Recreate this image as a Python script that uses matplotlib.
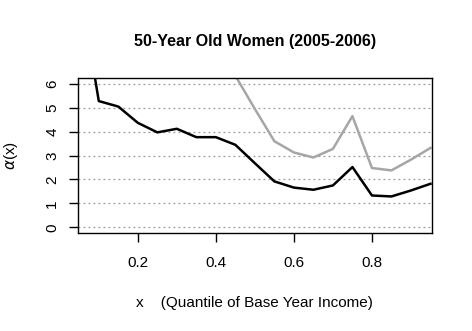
"""
50-Year Old Women (2005-2006) - alpha(x) by base-year income quantile
"""

import matplotlib
matplotlib.use('Agg')
import matplotlib.pyplot as plt

plt.rcParams['font.family'] = ['Liberation Sans', 'DejaVu Sans']

# ==================== 数据 ====================
x_vals = [0.05, 0.10, 0.15, 0.20, 0.25, 0.30, 0.35, 0.40, 0.45, 0.50,
          0.55, 0.60, 0.65, 0.70, 0.75, 0.80, 0.85, 0.90, 0.95]
alpha_black = [10.2, 5.28, 5.05, 4.37, 3.97, 4.12, 3.77, 3.77, 3.45, 2.68,
               1.92, 1.66, 1.57, 1.75, 2.52, 1.33, 1.29, 1.54, 1.82]
# 灰线前半段超出上界
alpha_gray = [14.0, 12.5, 11.3, 10.2, 9.2, 8.4, 7.7, 7.7, 6.34, 4.95,
              3.60, 3.13, 2.92, 3.28, 4.65, 2.48, 2.38, 2.83, 3.32]

x_ticks = [0.2, 0.4, 0.6, 0.8]
y_ticks = [0, 1, 2, 3, 4, 5, 6]

title = '50-Year Old Women (2005-2006)'
xlabel = 'x    (Quantile of Base Year Income)'
ylabel = r'$\alpha$(x)'

# ==================== 绘图 ====================
fig = plt.figure(figsize=(4.72, 3.31), dpi=100)
ax = fig.add_axes([0.165, 0.296, 0.75, 0.468])

for y in y_ticks:
    ax.axhline(y, color='#9a9a9a', linestyle=(0, (1.5, 2.5)), linewidth=0.9, zorder=1)

ax.plot(x_vals, alpha_gray, color='#a6a6a6', linewidth=1.8, zorder=2)
ax.plot(x_vals, alpha_black, color='black', linewidth=1.8, zorder=3)

ax.set_xlim(0.0464, 0.9536)
ax.set_ylim(-0.24, 6.24)
ax.set_xticks(x_ticks)
ax.set_xticklabels([f'{t:.1f}' for t in x_ticks])
ax.set_yticks(y_ticks)
ax.set_yticklabels([str(t) for t in y_ticks], rotation=90, va='center')

ax.tick_params(direction='out', length=6.5, width=1, labelsize=11, pad=7)
ax.tick_params(axis='x', pad=10)
for s in ax.spines.values():
    s.set_linewidth(1)

ax.set_title(title, fontsize=11.5, fontweight='bold', pad=23)
ax.set_xlabel(xlabel, fontsize=11, labelpad=19)
ax.set_ylabel(ylabel, fontsize=11, labelpad=18)

fig.savefig('out.png', dpi=100)
